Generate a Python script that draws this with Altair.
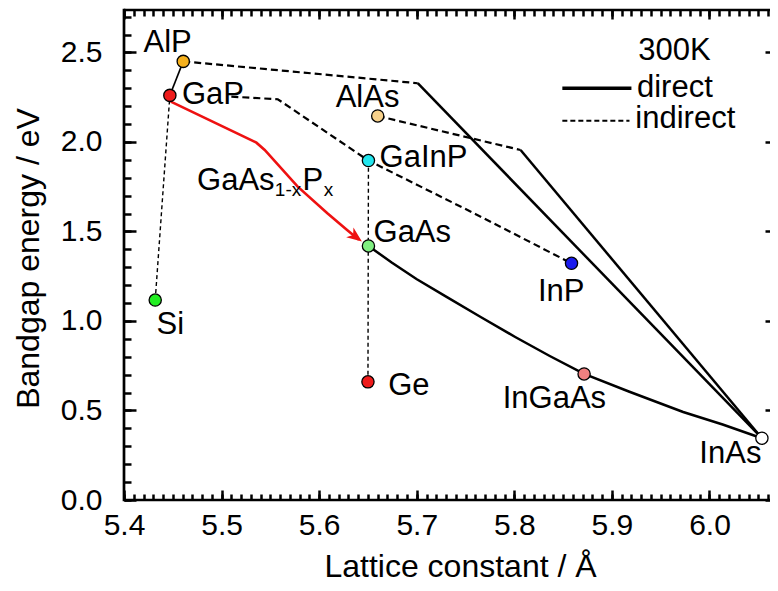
import altair as alt
import pandas as pd

# ---------------- data ----------------
names = ["AlP", "GaP", "Si", "GaAs", "GaInP", "Ge", "AlAs", "InP", "InGaAs", "InAs"]
lattice = [5.4607, 5.447, 5.432, 5.6505, 5.6505, 5.650, 5.660, 5.8586, 5.8715, 6.0537]
bandgap = [2.45, 2.26, 1.117, 1.419, 1.896, 0.66, 2.145, 1.322, 0.704, 0.345]
fills = ["#f5b01c", "#ee1b1b", "#22ee22", "#80ee80", "#22e6ee", "#ee1b1b",
         "#f7d18b", "#1b1bee", "#f08080", "#ffffff"]

label_text = ["AlP", "GaP", "AlAs", "GaInP", "GaAs", "Si", "Ge", "InP", "InGaAs", "InAs",
              "300K", "direct", "indirect"]
label_x = [5.420, 5.4594, 5.6169, 5.6619, 5.6557, 5.4334, 5.6707, 5.8242, 5.7881, 5.9896,
           5.9271, 5.9257, 5.9240]
label_y = [2.5045, 2.2123, 2.197, 1.862, 1.443, 0.927, 0.587, 1.113, 0.512, 0.205,
           2.458, 2.253, 2.077]

# GaAs(1-x)P(x) label pieces
formula_text = ["GaAs", "1-x", "P", "x"]
formula_x = [5.4749, 5.5546, 5.5830, 5.6047]
formula_y = [1.732, 1.698, 1.732, 1.698]
formula_size = [31, 19, 31, 19]

# solid (direct) curves
alp_gap_x = [5.4607, 5.447]
alp_gap_y = [2.45, 2.26]
alinp_direct_x = [5.701, 6.0537]
alinp_direct_y = [2.328, 0.345]
alas_direct_x = [5.8064, 6.0537]
alas_direct_y = [1.955, 0.345]
ingaas_x = [5.6505, 5.6743, 5.6997, 5.7301, 5.7655, 5.8009, 5.8363, 5.8715,
            5.9173, 5.9730, 6.0135, 6.0537]
ingaas_y = [1.419, 1.3268, 1.2346, 1.1358, 1.0223, 0.9106, 0.8045, 0.704,
            0.6061, 0.4916, 0.4218, 0.345]

# dashed (indirect) curves
alp_ind_x = [5.4607, 5.701]
alp_ind_y = [2.45, 2.328]
alas_ind_x = [5.660, 5.8064]
alas_ind_y = [2.145, 1.955]
gainp_ind_x = [5.510, 5.5576, 5.6505, 5.760, 5.8586]
gainp_ind_y = [2.253, 2.2385, 1.896, 1.598, 1.322]

# thin dashed verticals
si_gap_x = [5.432, 5.447]
si_gap_y = [1.117, 2.26]
ge_gainp_x = [5.650, 5.6505]
ge_gainp_y = [0.66, 1.896]

# red GaAsP path
gaasp_x = [5.448, 5.5357, 5.5442, 5.5780, 5.6084, 5.6286, 5.6408]
gaasp_y = [2.225, 1.996, 1.955, 1.750, 1.602, 1.508, 1.453]
arrow_x = [5.6376]
arrow_y = [1.469]

# legend samples
leg_direct_x = [5.8492, 5.9200]
leg_direct_y = [2.30, 2.30]
leg_indirect_x = [5.8492, 5.9180]
leg_indirect_y = [2.119, 2.119]

# axis ticks
x_major = [5.4, 5.5, 5.6, 5.7, 5.8, 5.9, 6.0]
x_minor = [round(5.40 + 0.01 * i, 2) for i in range(67)]
y_major = [0.0, 0.5, 1.0, 1.5, 2.0, 2.5]
y_minor = [round(0.1 * i, 1) for i in range(28)]

# ---------------- chart ----------------
W, H = 646, 490
FONT = "Liberation Sans"
xs = alt.Scale(domain=[5.4, 6.062], nice=False, zero=False, padding=0)
ys = alt.Scale(domain=[0, 2.737], nice=False, zero=False, padding=0)

TK = dict(domain=False, grid=False, ticks=True, tickColor="black", tickWidth=2.5,
          tickOpacity=1)

# inward ticks: each axis is pulled inside the frame by its own tick length
ax_bottom = alt.Axis(orient="bottom", values=x_major, format=".1f", tickSize=10, offset=-10,
                     labelFlush=False, labelFontSize=30, labelFont=FONT,
                     labelColor="black", labelPadding=10,
                     title="Lattice constant / Å", titleFont=FONT, titleFontSize=32,
                     titleFontWeight="normal", titleColor="black",
                     titleBaseline="alphabetic", titleY=86, titleX=336, **TK)
ax_top = alt.Axis(orient="top", values=x_major, tickSize=9, offset=-9, labels=False,
                  title=None, **TK)
ax_bottom_minor = alt.Axis(orient="bottom", values=x_minor, tickSize=6, offset=-6,
                           labels=False, title=None, **TK)
ax_top_minor = alt.Axis(orient="top", values=x_minor, tickSize=6, offset=-6,
                        labels=False, title=None, **TK)

ay_left = alt.Axis(orient="left", values=y_major, format=".1f", tickSize=12, offset=-12,
                   labelFontSize=30, labelFont=FONT, labelColor="black", labelPadding=22,
                   labelFlush=False,
                   title="Bandgap energy / eV", titleFont=FONT, titleFontSize=32,
                   titleFontWeight="normal", titleColor="black",
                   titleAngle=270, titleAlign="center", titleBaseline="middle",
                   titleX=-108, titleY=248, **TK)
ay_right = alt.Axis(orient="right", values=y_major, tickSize=5, offset=-5, labels=False,
                    title=None, **TK)
ay_left_minor = alt.Axis(orient="left", values=y_minor, tickSize=7, offset=-7,
                         labels=False, title=None, **TK)


def line(xv, yv, color="black", width=2.5, dash=None, xa=None, ya=None):
    df = pd.DataFrame({"x": xv, "y": yv, "i": list(range(len(xv)))})
    kw = dict(color=color, strokeWidth=width, clip=False)
    if dash:
        kw["strokeDash"] = dash
    return alt.Chart(df).mark_line(**kw).encode(
        x=alt.X("x:Q", scale=xs, axis=xa),
        y=alt.Y("y:Q", scale=ys, axis=ya),
        order="i:Q")


def XY():
    return dict(x=alt.X("x:Q", scale=xs, axis=None), y=alt.Y("y:Q", scale=ys, axis=None))


layers = []

# frame (top, bottom, left)
frame = pd.DataFrame({"k": [0]})
layers.append(alt.Chart(frame).mark_rule(color="black", strokeWidth=2.7).encode(
    x=alt.value(0), x2=alt.value(W), y=alt.value(0)))
layers.append(alt.Chart(frame).mark_rule(color="black", strokeWidth=2.7).encode(
    x=alt.value(0), x2=alt.value(W), y=alt.value(H)))
layers.append(alt.Chart(frame).mark_rule(color="black", strokeWidth=2.7).encode(
    x=alt.value(0), y=alt.value(-1.3), y2=alt.value(H + 1.3)))

# curves (the first four also carry the axes)
DASH = [7, 4]
THIN = [4, 3]
layers += [
    line(alp_gap_x, alp_gap_y, width=1.6, xa=ax_bottom, ya=ay_left),
    line(alinp_direct_x, alinp_direct_y, xa=ax_top, ya=ay_right),
    line(alas_direct_x, alas_direct_y, xa=ax_bottom_minor, ya=ay_left_minor),
    line(ingaas_x, ingaas_y, xa=ax_top_minor),
    line(alp_ind_x, alp_ind_y, width=2.2, dash=DASH),
    line(alas_ind_x, alas_ind_y, width=2.2, dash=DASH),
    line(gainp_ind_x, gainp_ind_y, width=2.2, dash=DASH),
    line(si_gap_x, si_gap_y, width=1.4, dash=THIN),
    line(ge_gainp_x, ge_gainp_y, width=1.4, dash=THIN),
    line(gaasp_x, gaasp_y, color="#ee1111", width=2.6),
    line(leg_direct_x, leg_direct_y, width=3.5),
    line(leg_indirect_x, leg_indirect_y, width=2, dash=[5, 3]),
]

# arrow head
layers.append(alt.Chart(pd.DataFrame({"x": arrow_x, "y": arrow_y})).mark_point(
    shape="M1,0 L-1,-0.8 L-0.45,0 L-1,0.8 Z", filled=True, color="#ee1111",
    opacity=1, size=230, angle=37).encode(**XY()))

# points
pts = pd.DataFrame({"x": lattice, "y": bandgap, "f": fills, "n": names})
layers.append(alt.Chart(pts).mark_circle(size=150, stroke="black", strokeWidth=1.3,
                                          opacity=1).encode(
    fill=alt.Fill("f:N", scale=None), **XY()))

# labels
lab = pd.DataFrame({"x": label_x, "y": label_y, "t": label_text})
layers.append(alt.Chart(lab).mark_text(align="left", baseline="alphabetic", font=FONT,
                                       fontSize=31, color="black").encode(
    text="t:N", **XY()))

form = pd.DataFrame({"x": formula_x, "y": formula_y, "t": formula_text, "s": formula_size})
layers.append(alt.Chart(form).mark_text(align="left", baseline="alphabetic", font=FONT,
                                        color="black").encode(
    text="t:N", size=alt.Size("s:Q", scale=None), **XY()))

chart = alt.layer(*layers).resolve_axis(x="independent", y="independent").properties(
    width=W, height=H,
    autosize=alt.AutoSizeParams(type="none"),
    padding={"left": 116, "top": 2, "right": 0, "bottom": 83},
).configure_view(stroke=None).configure(background="white")

chart.save("out.html", embed_options={"renderer": "svg", "actions": False})
